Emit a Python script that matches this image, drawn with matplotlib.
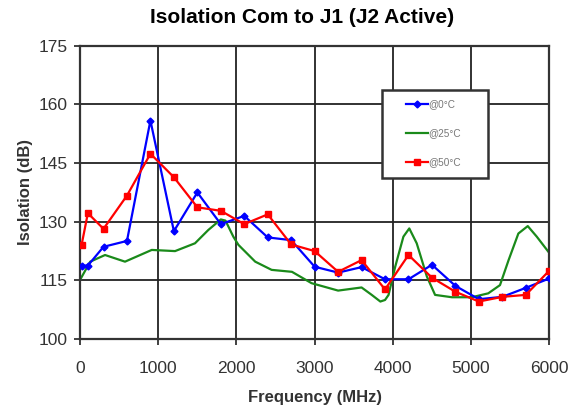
import matplotlib.pyplot as plt
from matplotlib.patches import Rectangle

freq = [20, 100, 300, 600, 900, 1200, 1500, 1800, 2100, 2400, 2700, 3000,
        3300, 3600, 3900, 4200, 4500, 4800, 5100, 5400, 5700, 6000]
iso_0c = [118.8, 118.8, 123.6, 125.1, 155.9, 127.6, 137.5, 129.4, 131.5, 126.0, 125.3, 118.5,
          117.0, 118.4, 115.3, 115.3, 119.0, 113.6, 110.2, 110.8, 113.1, 115.5]
iso_50c = [124.1, 132.2, 128.2, 136.7, 147.4, 141.4, 133.7, 132.8, 129.4, 131.9, 124.2, 122.5,
           117.2, 120.2, 112.7, 121.5, 115.7, 112.1, 109.6, 110.8, 111.3, 117.5]

# 25C trace has no markers
freq_25c = [10, 130, 320, 575, 917, 1215, 1470, 1640, 1800, 1860, 1960, 2025, 2240, 2450,
            2710, 2960, 3300, 3600, 3730, 3840, 3900, 3945, 4030, 4135, 4210, 4305, 4435,
            4540, 4755, 5010, 5220, 5370, 5480, 5605, 5725, 5840, 5990]
iso_25c = [115.5, 119.8, 121.5, 119.8, 122.8, 122.5, 124.5, 127.9, 130.6, 130.3, 126.2, 124.1,
           119.8, 117.7, 117.2, 114.3, 112.4, 113.2, 111.3, 109.6, 110.0, 111.3, 118.5, 126.2,
           128.3, 124.5, 116.0, 111.3, 110.7, 110.7, 111.7, 113.8, 120.2, 127.0, 128.9, 126.2,
           122.3]

plt.rcParams['font.family'] = ['Liberation Sans', 'DejaVu Sans']

fig = plt.figure(figsize=(5.8, 4.13), dpi=100)
ax = fig.add_axes([0.138, 0.179, 0.809, 0.710])

ax.plot(freq, iso_0c, color='#0000ff', lw=1.6, marker='D', markersize=3.5, label='@0°C', zorder=3)
ax.plot(freq_25c, iso_25c, color='#1a8a1a', lw=1.6, label='@25°C', zorder=2)
ax.plot(freq, iso_50c, color='#ff0000', lw=1.6, marker='s', markersize=4.5, label='@50°C', zorder=4)

ax.set_xlim(0, 6000)
ax.set_ylim(100, 175)
ax.set_xticks(range(0, 6001, 1000))
ax.set_yticks(range(100, 176, 15))
ax.grid(True, color='#222222', lw=1.3)
ax.set_axisbelow(True)
for s in ax.spines.values():
    s.set_color('#333333')
    s.set_linewidth(1.6)
ax.tick_params(labelsize=12.5, colors='#333333', length=4, width=1.3, pad=12)
ax.tick_params(axis='y', pad=5)

ax.set_xlabel('Frequency (MHz)', fontsize=12, fontweight='bold', color='#333333', labelpad=10)
ax.set_ylabel('Isolation (dB)', fontsize=12, fontweight='bold', color='#333333', labelpad=4)
fig.text(0.521, 0.958, 'Isolation Com to J1 (J2 Active)', fontsize=15, fontweight='bold',
         ha='center', va='center')

# legend box
box = Rectangle((0.644, 0.549), 0.226, 0.301, transform=ax.transAxes, facecolor='white',
                edgecolor='#333333', lw=1.8, zorder=5)
ax.add_patch(box)
leg = ax.legend(loc='upper left', bbox_to_anchor=(0.695, 0.818), fontsize=7.2, handlelength=2.2,
                handletextpad=0.0, labelspacing=1.9, borderpad=0, frameon=False,
                borderaxespad=0)
leg.set_zorder(6)
for t in leg.get_texts():
    t.set_color('#777777')

fig.savefig('out.png', dpi=100)
